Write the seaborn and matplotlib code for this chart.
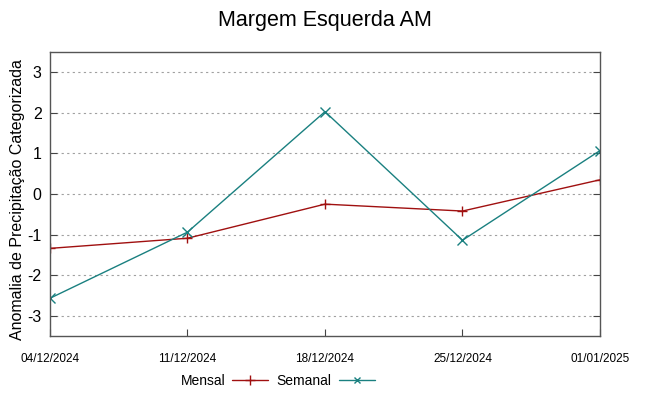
import pandas as pd
import matplotlib
matplotlib.use('Agg')
import matplotlib.pyplot as plt
import matplotlib.dates as mdates
import seaborn as sns

# dados
datas = ['2024-12-04', '2024-12-11', '2024-12-18', '2024-12-25', '2025-01-01']
mensal = [-1.34, -1.09, -0.25, -0.42, 0.35]
semanal = [-2.57, -0.94, 2.03, -1.14, 1.07]
y_ticks = [-3, -2, -1, 0, 1, 2, 3]

sns.set_style('white')
plt.rcParams['font.family'] = ['Liberation Sans', 'DejaVu Sans']
plt.rcParams['axes.unicode_minus'] = False
plt.rcParams['text.color'] = 'black'
plt.rcParams['axes.labelcolor'] = 'black'
plt.rcParams['xtick.color'] = 'black'
plt.rcParams['ytick.color'] = 'black'

df = pd.concat([
    pd.DataFrame({'data': pd.to_datetime(datas), 'valor': mensal, 'serie': 'Mensal'}),
    pd.DataFrame({'data': pd.to_datetime(datas), 'valor': semanal, 'serie': 'Semanal'}),
])

fig = plt.figure(figsize=(6.49, 3.96), dpi=100)
ax = fig.add_axes([0.077, 0.1515, 0.8475, 0.7172])

cores = {'Mensal': '#a01010', 'Semanal': '#1a8080'}
sns.lineplot(data=df, x='data', y='valor', hue='serie', style='serie',
             markers={'Mensal': '+', 'Semanal': 'x'}, dashes=False,
             palette=cores, linewidth=1.0, markersize=6.5,
             ax=ax, legend=False)
# marcadores com a cor da linha
for ln in ax.lines:
    ln.set_markeredgecolor(ln.get_color())
    ln.set_markeredgewidth(1.0)

ax.set_xlim(pd.to_datetime(datas[0]), pd.to_datetime(datas[-1]))
ax.set_ylim(-3.5, 3.5)
ax.set_xticks(pd.to_datetime(datas))
ax.xaxis.set_major_formatter(mdates.DateFormatter('%d/%m/%Y'))
ax.set_yticks(y_ticks)
ax.tick_params(axis='x', direction='in', length=5, labelsize=8.5, pad=12,
               bottom=True, top=False, color='#444444')
ax.tick_params(axis='y', direction='in', length=5, labelsize=11.5, left=True,
               right=True, pad=6, color='#444444')
ax.grid(axis='y', linestyle=(0, (2, 3)), color='#a0a0a0', linewidth=0.8)
for s in ax.spines.values():
    s.set_color('#555555')
    s.set_linewidth(1.0)

ax.set_xlabel('')
ax.set_ylabel('Anomalia de Precipitação Categorizada', fontsize=11.5)
ax.yaxis.set_label_coords(-0.045, 0.48)
fig.suptitle('Margem Esquerda AM', fontsize=15.5, y=0.975)

handles = [plt.Line2D([], [], color=cores['Mensal'], marker='+', linewidth=1.0, markersize=7),
           plt.Line2D([], [], color=cores['Semanal'], marker='x', linewidth=1.0, markersize=5)]
fig.legend(handles, ['Mensal', 'Semanal'], loc='center', bbox_to_anchor=(0.428, 0.038),
           ncol=2, frameon=False, markerfirst=False, fontsize=10, handlelength=2.6,
           columnspacing=0.6, handletextpad=0.5)

fig.savefig('out.png', dpi=100)
